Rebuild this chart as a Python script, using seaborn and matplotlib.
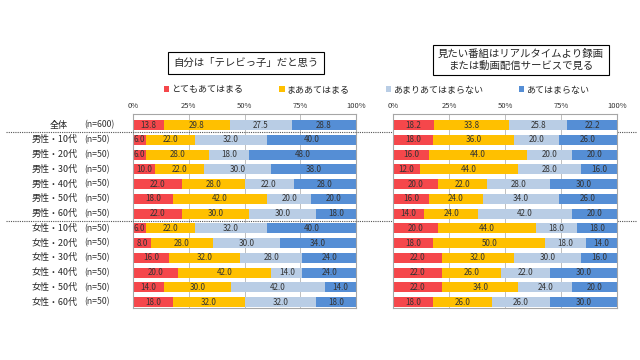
import matplotlib
matplotlib.use("Agg")
from matplotlib import pyplot as plt
from matplotlib.patches import Patch
import matplotlib.transforms as mtrans
import seaborn as sns
import pandas as pd
import numpy as np

# Zeilen (Gruppen) und Stichprobengrößen
rows = ["全体", "男性・10代", "男性・20代", "男性・30代", "男性・40代", "男性・50代", "男性・60代",
        "女性・10代", "女性・20代", "女性・30代", "女性・40代", "女性・50代", "女性・60代"]
sizes = ["(n=600)"] + ["(n=50)"] * 12

answers = ["とてもあてはまる", "まああてはまる", "あまりあてはまらない", "あてはまらない"]
colors = ["#F5474B", "#FFC000", "#B9CDE5", "#558ED5"]

# 自分は「テレビっ子」だと思う
tv_very = [13.8, 6.0, 6.0, 10.0, 22.0, 18.0, 22.0, 6.0, 8.0, 16.0, 20.0, 14.0, 18.0]
tv_some = [29.8, 22.0, 28.0, 22.0, 28.0, 42.0, 30.0, 22.0, 28.0, 32.0, 42.0, 30.0, 32.0]
tv_little = [27.5, 32.0, 18.0, 30.0, 22.0, 20.0, 30.0, 32.0, 30.0, 28.0, 14.0, 42.0, 32.0]
tv_not = [28.8, 40.0, 48.0, 38.0, 28.0, 20.0, 18.0, 40.0, 34.0, 24.0, 24.0, 14.0, 18.0]

# 見たい番組はリアルタイムより録画または動画配信サービスで見る
rec_very = [18.2, 18.0, 16.0, 12.0, 20.0, 16.0, 14.0, 20.0, 18.0, 22.0, 22.0, 22.0, 18.0]
rec_some = [33.8, 36.0, 44.0, 44.0, 22.0, 24.0, 24.0, 44.0, 50.0, 32.0, 26.0, 34.0, 26.0]
rec_little = [25.8, 20.0, 20.0, 28.0, 28.0, 34.0, 42.0, 18.0, 18.0, 30.0, 22.0, 24.0, 26.0]
rec_not = [22.2, 26.0, 20.0, 16.0, 30.0, 26.0, 20.0, 18.0, 14.0, 16.0, 30.0, 20.0, 30.0]

titles = ["自分は「テレビっ子」だと思う",
          "見たい番組はリアルタイムより録画\nまたは動画配信サービスで見る"]

sns.set_style("white")
plt.rcParams["font.family"] = ["Noto Sans CJK JP", "DejaVu Sans"]

fig = plt.figure(figsize=(6.4, 3.6), dpi=100)
ax_l = fig.add_axes([133 / 640, 1 - 308 / 360, 223 / 640, 194 / 360])
ax_r = fig.add_axes([393 / 640, 1 - 308 / 360, 224 / 640, 194 / 360])


def stacked(ax, parts):
    df = pd.DataFrame(dict(zip(answers, parts)), index=rows)
    cum = df.cumsum(axis=1)
    # von hinten nach vorne zeichnen, damit sich die Segmente stapeln
    for i in range(len(answers) - 1, -1, -1):
        d = pd.DataFrame({"row": rows, "val": cum.iloc[:, i].values})
        sns.barplot(data=d, x="val", y="row", color=colors[i], width=0.68,
                    orient="h", ax=ax, saturation=1, zorder=2, edgecolor="none")
    for r in range(len(rows)):
        left = 0
        for i in range(len(answers)):
            v = df.iloc[r, i]
            ax.text(left + v / 2, r, f"{v:.1f}", ha="center", va="center",
                    fontsize=5.8, color="#333333", zorder=3)
            left += v
    ax.set_xlim(0, 100)
    ax.set_ylim(12.4, -0.75)
    ax.set_xticks([0, 25, 50, 75, 100])
    ax.set_xticklabels(["0%", "25%", "50%", "75%", "100%"], fontsize=5.5, color="#333333")
    ax.xaxis.tick_top()
    ax.tick_params(axis="x", length=0, pad=3)
    ax.set_yticks([])
    ax.set_xlabel("")
    ax.set_ylabel("")
    for x in [25, 50, 75]:
        ax.axvline(x, color="#BFBFBF", lw=0.7, zorder=1)
    for s in ax.spines.values():
        s.set_color("#A6A6A6")
        s.set_linewidth(0.8)


stacked(ax_l, [tv_very, tv_some, tv_little, tv_not])
stacked(ax_r, [rec_very, rec_some, rec_little, rec_not])

# Zeilenbeschriftungen links
trans = mtrans.blended_transform_factory(fig.transFigure, ax_l.transData)
for r, (name, n) in enumerate(zip(rows, sizes)):
    if r == 0:
        ax_l.text(68 / 640, r, name, transform=trans, ha="right", va="center", fontsize=6.5)
    else:
        ax_l.text(32 / 640, r, name, transform=trans, ha="left", va="center", fontsize=6.5)
    ax_l.text(84 / 640, r, n, transform=trans, ha="left", va="center", fontsize=6.3, color="#333333")

# gepunktete Trennlinien
sep = mtrans.blended_transform_factory(fig.transFigure, ax_l.transData)
for y in [0.5, 6.5]:
    ax_l.plot([6 / 640, 636 / 640], [y, y], transform=sep, clip_on=False,
              ls=(0, (1, 1)), color="#555555", lw=0.8, zorder=5)

# Titel in Rahmen
fig.text(246 / 640, 1 - 63 / 360, titles[0], ha="center", va="center", fontsize=7.5,
         bbox=dict(boxstyle="square,pad=0.55", fc="white", ec="black", lw=0.8))
fig.text(521 / 640, 1 - 60 / 360, titles[1], ha="center", va="center", fontsize=7.5,
         linespacing=1.15,
         bbox=dict(boxstyle="square,pad=0.45", fc="white", ec="black", lw=0.8))

# Legende
handles = [Patch(facecolor=c, edgecolor="none", label=a) for c, a in zip(colors, answers)]
fig.legend(handles=handles, ncol=4, loc="center left", bbox_to_anchor=(164 / 640, 1 - 90 / 360),
           frameon=False, fontsize=6.5, handlelength=0.6, handleheight=0.6, handletextpad=0.2,
           columnspacing=4.0, borderpad=0, borderaxespad=0)

fig.savefig("out.png", dpi=100)
